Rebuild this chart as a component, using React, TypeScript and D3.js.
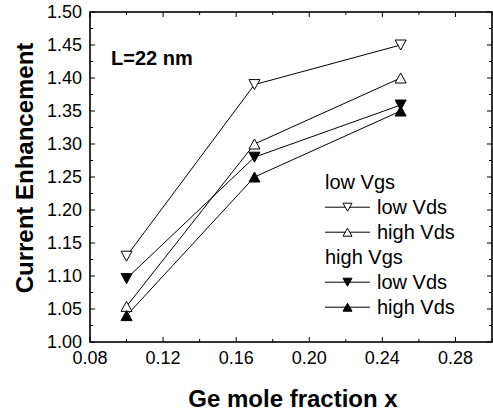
import React from "react";
import * as d3 from "d3";

const xValues = [0.1, 0.17, 0.25];
const lowVgsLowVds = [1.13, 1.39, 1.45];
const lowVgsHighVds = [1.054, 1.3, 1.4];
const highVgsLowVds = [1.096, 1.28, 1.359];
const highVgsHighVds = [1.04, 1.25, 1.35];

const xMajorTicks = [0.08, 0.12, 0.16, 0.2, 0.24, 0.28];
const xMinorTicks = [0.1, 0.14, 0.18, 0.22, 0.26, 0.3];
const yMajorTicks = [1.0, 1.05, 1.1, 1.15, 1.2, 1.25, 1.3, 1.35, 1.4, 1.45, 1.5];
const yMinorTicks = [1.025, 1.075, 1.125, 1.175, 1.225, 1.275, 1.325, 1.375, 1.425, 1.475];

const series = [
  { name: "low Vds", group: "low Vgs", values: lowVgsLowVds, dir: "down", filled: false },
  { name: "high Vds", group: "low Vgs", values: lowVgsHighVds, dir: "up", filled: false },
  { name: "low Vds", group: "high Vgs", values: highVgsLowVds, dir: "down", filled: true },
  { name: "high Vds", group: "high Vgs", values: highVgsHighVds, dir: "up", filled: true },
];

const W = 493;
const H = 420;
const left = 90;
const right = 492;
const top = 12;
const bottom = 342;

function tri(cx: number, cy: number, w: number, h: number, dir: string) {
  if (dir === "up") {
    return `M${cx - w / 2},${cy + h / 2}L${cx + w / 2},${cy + h / 2}L${cx},${cy - h / 2}Z`;
  }
  return `M${cx - w / 2},${cy - h / 2}L${cx + w / 2},${cy - h / 2}L${cx},${cy + h / 2}Z`;
}

export default function App() {
  const x = d3.scaleLinear().domain([0.08, 0.3]).range([left, right]);
  const y = d3.scaleLinear().domain([1.0, 1.5]).range([bottom, top]);
  const line = d3
    .line<[number, number]>()
    .x((d) => x(d[0]))
    .y((d) => y(d[1]));

  const font = "Arial, 'Liberation Sans', sans-serif";
  const major = 5;
  const minor = 3;

  // legend layout
  const legX1 = 325;
  const legX2 = 370;
  const legTextX = 377;
  const legBase0 = 188.7;
  const legStep = 25;
  const legendRows: any[] = [];
  let row = 0;
  let lastGroup = "";
  series.forEach((s) => {
    if (s.group !== lastGroup) {
      legendRows.push({ type: "title", text: s.group, row });
      row++;
      lastGroup = s.group;
    }
    legendRows.push({ type: "item", s, row });
    row++;
  });

  return (
    <svg
      width={W}
      height={H}
      style={{ position: "absolute", left: 0, top: 0, background: "#fff" }}
      fontFamily={font}
    >
      <rect x={0} y={0} width={W} height={H} fill="#fff" />
      {/* ticks */}
      <g stroke="#000" strokeWidth={1}>
        {xMajorTicks.map((t) => (
          <g key={"xm" + t}>
            <line x1={x(t)} x2={x(t)} y1={bottom} y2={bottom - major} />
            <line x1={x(t)} x2={x(t)} y1={top} y2={top + major} />
          </g>
        ))}
        {xMinorTicks.map((t) => (
          <g key={"xn" + t}>
            <line x1={x(t)} x2={x(t)} y1={bottom} y2={bottom - minor} />
            <line x1={x(t)} x2={x(t)} y1={top} y2={top + minor} />
          </g>
        ))}
        {yMajorTicks.map((t) => (
          <g key={"ym" + t}>
            <line x1={left} x2={left + major} y1={y(t)} y2={y(t)} />
            <line x1={right} x2={right - major} y1={y(t)} y2={y(t)} />
          </g>
        ))}
        {yMinorTicks.map((t) => (
          <g key={"yn" + t}>
            <line x1={left} x2={left + minor} y1={y(t)} y2={y(t)} />
            <line x1={right} x2={right - minor} y1={y(t)} y2={y(t)} />
          </g>
        ))}
      </g>
      <rect
        x={left}
        y={top}
        width={right - left}
        height={bottom - top}
        fill="none"
        stroke="#000"
        strokeWidth={1.6}
      />
      {/* tick labels */}
      <g fontSize={18} fill="#000">
        {xMajorTicks.map((t) => (
          <text key={"xl" + t} x={x(t)} y={363.5} textAnchor="middle">
            {d3.format(".2f")(t)}
          </text>
        ))}
        {yMajorTicks.map((t) => (
          <text key={"yl" + t} x={82} y={y(t) + 6.3} textAnchor="end">
            {d3.format(".2f")(t)}
          </text>
        ))}
      </g>
      {/* axis titles */}
      <text
        x={293}
        y={406.5}
        textAnchor="middle"
        fontSize={24}
        fontWeight="bold"
      >
        Ge mole fraction x
      </text>
      <text
        transform={`translate(32.5,168) rotate(-90)`}
        textAnchor="middle"
        fontSize={24}
        fontWeight="bold"
      >
        Current Enhancement
      </text>
      <text x={111} y={65} fontSize={20} fontWeight="bold">
        L=22 nm
      </text>
      {/* series lines */}
      {series.map((s, i) => (
        <path
          key={"l" + i}
          d={line(xValues.map((xv, j) => [xv, s.values[j]]) as [number, number][]) || ""}
          fill="none"
          stroke="#000"
          strokeWidth={1}
        />
      ))}
      {/* markers */}
      {series.map((s, i) =>
        xValues.map((xv, j) => (
          <path
            key={"m" + i + "-" + j}
            d={tri(x(xv), y(s.values[j]), 11, 10, s.dir)}
            fill={s.filled ? "#000" : "#fff"}
            stroke="#000"
            strokeWidth={1}
          />
        ))
      )}
      {/* legend */}
      <g fontSize={20} fill="#000">
        {legendRows.map((r, i) => {
          const base = legBase0 + legStep * r.row;
          if (r.type === "title") {
            return (
              <text key={"lg" + i} x={legX1} y={base}>
                {r.text}
              </text>
            );
          }
          const cy = base - 6.5;
          const cx = (legX1 + legX2) / 2;
          return (
            <g key={"lg" + i}>
              <line x1={legX1} x2={legX2} y1={cy} y2={cy} stroke="#000" strokeWidth={1} />
              <path
                d={tri(cx, cy, 9, 8, r.s.dir)}
                fill={r.s.filled ? "#000" : "#fff"}
                stroke="#000"
                strokeWidth={1}
              />
              <text x={legTextX} y={base}>
                {r.s.name}
              </text>
            </g>
          );
        })}
      </g>
    </svg>
  );
}
